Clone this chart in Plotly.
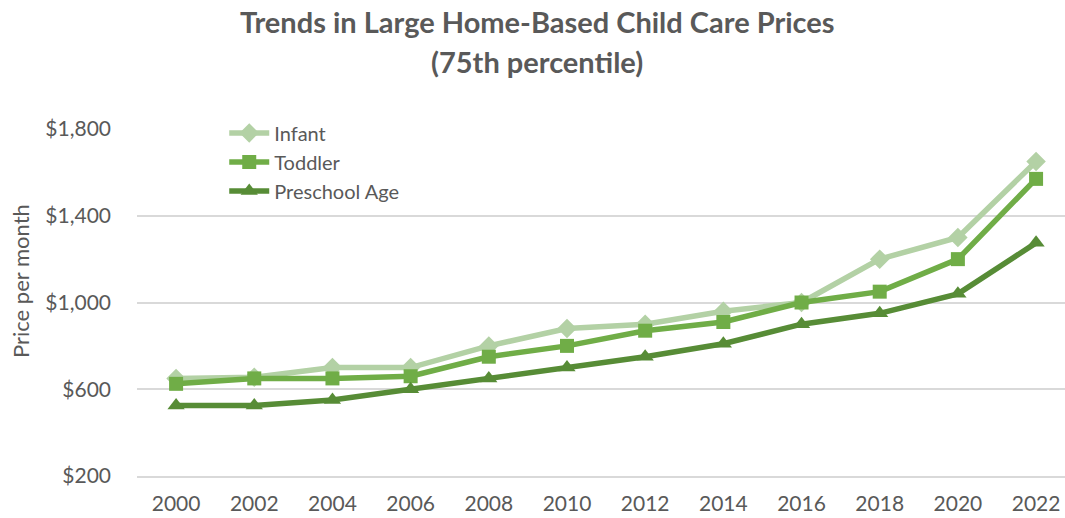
import plotly.graph_objects as go

years = [2000, 2002, 2004, 2006, 2008, 2010, 2012, 2014, 2016, 2018, 2020, 2022]
infant = [650, 655, 700, 700, 800, 880, 900, 960, 1000, 1200, 1300, 1650]
toddler = [625, 650, 650, 660, 750, 800, 870, 910, 1000, 1050, 1200, 1570]
preschool = [525, 525, 550, 600, 650, 700, 750, 810, 900, 950, 1040, 1275]
y_ticks = [200, 600, 1000, 1400, 1800]
y_tick_labels = ["$200", "$600", "$1,000", "$1,400", "$1,800"]

GRAY = "#595959"
FONT = "Lato"

series = [
    ("Infant", infant, "#B3D1A5", "diamond", 15),
    ("Toddler", toddler, "#70AD47", "square", 14),
    ("Preschool Age", preschool, "#578C36", "triangle-up", 15),
]

fig = go.Figure()
for name, vals, color, sym, size in series:
    fig.add_trace(go.Scatter(
        x=years, y=vals, name=name, mode="lines+markers",
        line=dict(color=color, width=5.5),
        marker=dict(symbol=sym, size=size, color=color),
    ))

fig.update_layout(
    width=1065, height=518,
    margin=dict(l=137, r=0, t=129, b=42),
    paper_bgcolor="white", plot_bgcolor="white",
    font=dict(family=FONT, size=21, color=GRAY),
    showlegend=True,
    legend=dict(x=0.094, y=1.045, xanchor="left", yanchor="top",
                bgcolor="rgba(0,0,0,0)", font=dict(size=20, color=GRAY),
                tracegroupgap=0, itemwidth=40),
    xaxis=dict(range=[1999, 2022.74], tickmode="array", tickvals=years,
               ticktext=[str(y) for y in years], showgrid=False, zeroline=False,
               showline=True, linecolor="#D9D9D9", linewidth=1.5,
               ticks="", ticklabelstandoff=8,
               tickfont=dict(size=21, color=GRAY, family=FONT)),
    yaxis=dict(range=[200, 1800], tickmode="array", tickvals=y_ticks,
               ticktext=y_tick_labels, showgrid=True, gridcolor="#D9D9D9",
               gridwidth=1.5, zeroline=False, showline=False, ticks="",
               ticklabelstandoff=25,
               tickfont=dict(size=21, color=GRAY, family=FONT)),
)

fig.add_annotation(text="<b>Trends in Large Home-Based Child Care Prices</b>",
                   xref="paper", yref="paper", x=(537 - 137) / 928, y=(476 - 22) / 347,
                   xanchor="center", yanchor="middle", showarrow=False,
                   font=dict(family=FONT, size=29, color=GRAY))
fig.add_annotation(text="<b>(75th percentile)</b>",
                   xref="paper", yref="paper", x=(537 - 137) / 928, y=(476 - 62) / 347,
                   xanchor="center", yanchor="middle", showarrow=False,
                   font=dict(family=FONT, size=29, color=GRAY))
fig.add_annotation(text="Price per month", textangle=-90,
                   xref="paper", yref="paper", x=(20 - 137) / 928, y=(476 - 281) / 347,
                   xanchor="center", yanchor="middle", showarrow=False,
                   font=dict(family=FONT, size=22, color=GRAY))

fig.write_html("out.html")
